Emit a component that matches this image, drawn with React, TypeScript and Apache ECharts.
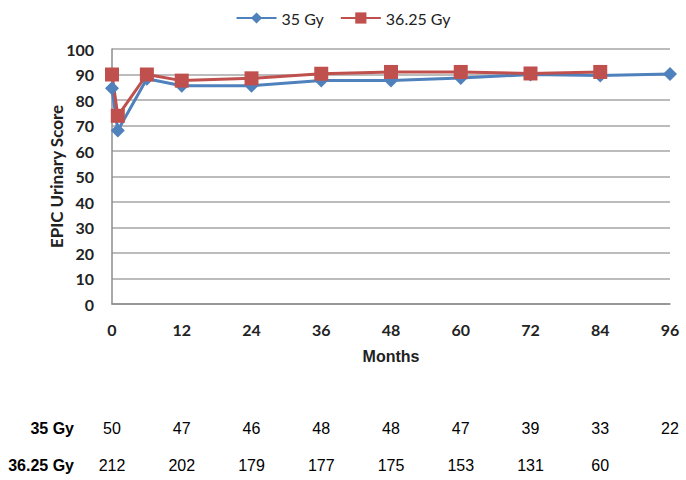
import React, { useEffect, useRef } from "react";
import * as echarts from "echarts";

const months35 = [0, 1, 6, 12, 24, 36, 48, 60, 72, 84, 96];
const score35 = [84.6, 68, 88.3, 85.6, 85.6, 87.6, 87.6, 88.6, 90, 89.6, 90.2];
const months3625 = [0, 1, 6, 12, 24, 36, 48, 60, 72, 84];
const score3625 = [90, 73.8, 90, 87.6, 88.5, 90.3, 91, 91, 90.4, 91];

const xTicks = [0, 12, 24, 36, 48, 60, 72, 84, 96];
const atRisk35 = [50, 47, 46, 48, 48, 47, 39, 33, 22];
const atRisk3625 = [212, 202, 179, 177, 175, 153, 131, 60];
const rowLabels = ["35 Gy", "36.25 Gy"];

const BLUE = "#4F81BD";
const RED = "#C0504D";
const TICK_FONT = "Lato";
const TABLE_FONT = "'Liberation Sans', Arial, sans-serif";

export default function App() {
  const ref = useRef<HTMLDivElement>(null);
  useEffect(() => {
    document.body.style.margin = "0";
    const chart = echarts.init(ref.current!, null, { renderer: "svg" });
    const toPts = (xs: number[], ys: number[]) => xs.map((x, i) => [x, ys[i]]);
    chart.setOption({
      animation: false,
      backgroundColor: "#ffffff",
      legend: {
        top: 5,
        left: "center",
        itemWidth: 40,
        itemHeight: 14,
        itemGap: 16,
        textStyle: { fontFamily: TICK_FONT, fontSize: 16, color: "#222" },
        data: ["35 Gy", "36.25 Gy"],
      },
      grid: { left: 112, right: 16, top: 49, height: 255 },
      xAxis: {
        type: "value",
        min: 0,
        max: 96,
        interval: 12,
        name: "Months",
        nameLocation: "middle",
        nameGap: 44,
        nameMoveOverlap: false,
        nameTextStyle: { fontFamily: TABLE_FONT, fontWeight: "bold", fontSize: 16, color: "#222" },
        axisLine: { lineStyle: { color: "#8c8c8c", width: 1.5 } },
        axisTick: { show: false },
        splitLine: { show: false },
        axisLabel: { margin: 17, fontFamily: TICK_FONT, fontWeight: "bold", fontSize: 16, color: "#222" },
      },
      yAxis: {
        type: "value",
        min: 0,
        max: 100,
        interval: 10,
        name: "EPIC Urinary Score",
        nameLocation: "middle",
        nameGap: 47,
        nameMoveOverlap: false,
        nameTextStyle: { fontFamily: TICK_FONT, fontWeight: "bold", fontSize: 17, color: "#222" },
        axisLine: { show: true, lineStyle: { color: "#8c8c8c", width: 1.5 } },
        axisTick: { show: false },
        splitLine: { lineStyle: { color: "#a6a6a6", width: 1.5 } },
        axisLabel: { margin: 18, fontFamily: TICK_FONT, fontWeight: "bold", fontSize: 16, color: "#222" },
      },
      series: [
        {
          name: "35 Gy",
          type: "line",
          data: toPts(months35, score35),
          symbol: "diamond",
          symbolSize: 14,
          lineStyle: { color: BLUE, width: 3 },
          itemStyle: { color: BLUE },
        },
        {
          name: "36.25 Gy",
          type: "line",
          data: toPts(months3625, score3625),
          symbol: "rect",
          symbolSize: 14,
          lineStyle: { color: RED, width: 3 },
          itemStyle: { color: RED },
        },
      ],
    });

    const rowYs = [428, 465];
    const rows = [atRisk35, atRisk3625];
    const elements: any[] = [];
    rows.forEach((vals, r) => {
      elements.push({
        type: "text",
        x: 74,
        y: rowYs[r],
        style: {
          text: rowLabels[r],
          fontFamily: TABLE_FONT,
          fontWeight: "bold",
          fontSize: 16,
          fill: "#000",
          align: "right",
          verticalAlign: "middle",
        },
      });
      vals.forEach((v, i) => {
        const px = chart.convertToPixel({ xAxisIndex: 0 }, xTicks[i]) as number;
        elements.push({
          type: "text",
          x: px,
          y: rowYs[r],
          style: {
            text: String(v),
            fontFamily: TABLE_FONT,
            fontSize: 16,
            fill: "#000",
            align: "center",
            verticalAlign: "middle",
          },
        });
      });
    });
    chart.setOption({ graphic: { elements } });

    return () => chart.dispose();
  }, []);
  return <div ref={ref} style={{ width: 686, height: 480 }} />;
}
